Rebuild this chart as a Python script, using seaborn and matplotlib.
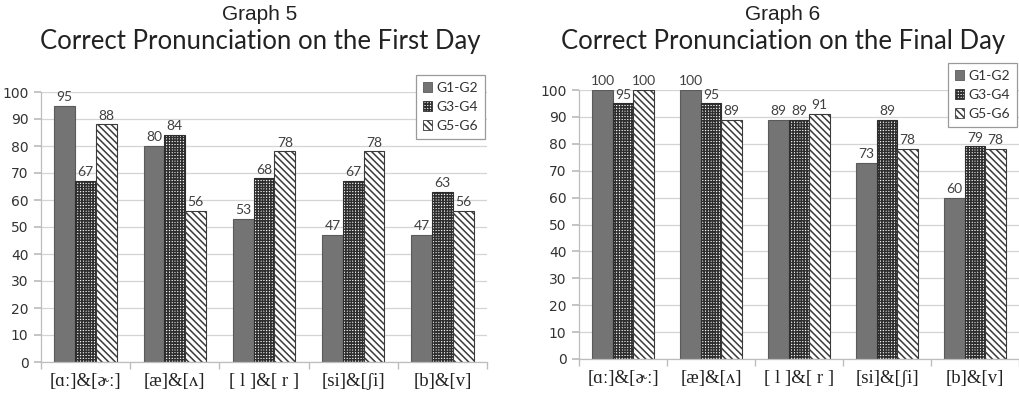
import matplotlib
matplotlib.use("Agg")
import matplotlib.pyplot as plt
from matplotlib.patches import Patch
import seaborn as sns
import pandas as pd

# Sound pairs on the x axis
categories = ["[ɑː]&[ɚː]", "[æ]&[ʌ]", "[ l ]&[ r ]", "[si]&[ʃi]", "[b]&[v]"]
groups = ["G1-G2", "G3-G4", "G5-G6"]

# Correct pronunciation (%) on the first day
first_g12 = [95, 80, 53, 47, 47]
first_g34 = [67, 84, 68, 67, 63]
first_g56 = [88, 56, 78, 78, 56]

# Correct pronunciation (%) on the final day
final_g12 = [100, 100, 89, 73, 60]
final_g34 = [95, 95, 89, 89, 79]
final_g56 = [100, 89, 91, 78, 78]

y_ticks = list(range(0, 101, 10))


def long_frame(a, b, c):
    rows = []
    for g, vals in zip(groups, [a, b, c]):
        for cat, v in zip(categories, vals):
            rows.append({"pair": cat, "group": g, "value": v})
    return pd.DataFrame(rows)


sns.set_theme(style="white")
plt.rcParams["hatch.linewidth"] = 1.1

styles = {
    "G1-G2": dict(facecolor="#747474", hatch=None, edgecolor="#5a5a5a"),
    "G3-G4": dict(facecolor="white", hatch="++++++", edgecolor="#2e2e2e"),
    "G5-G6": dict(facecolor="white", hatch="\\\\\\\\\\", edgecolor="#3a3a3a"),
}

fig = plt.figure(figsize=(10.19, 3.93), dpi=100)
W, H = 1019, 393


def make_axes(x0, x1, ytop, ybot):
    return fig.add_axes([x0 / W, 1 - ybot / H, (x1 - x0) / W, (ybot - ytop) / H])


ax1 = make_axes(41, 487, 92, 362)
ax2 = make_axes(579, 1019, 90, 359)

panels = [
    (ax1, long_frame(first_g12, first_g34, first_g56), "Graph 5",
     "Correct Pronunciation on the First Day", 260, (492 / W, 1 - 68 / H)),
    (ax2, long_frame(final_g12, final_g34, final_g56), "Graph 6",
     "Correct Pronunciation on the Final Day", 783, (1024 / W, 1 - 56 / H)),
]

for ax, df, head, title, xc, leg_anchor in panels:
    sns.barplot(data=df, x="pair", y="value", hue="group", hue_order=groups,
                order=categories, width=0.7, gap=0, ax=ax, legend=False,
                errorbar=None, saturation=1)
    for g, cont in zip(groups, ax.containers):
        st = styles[g]
        for bar in cont:
            bar.set_facecolor(st["facecolor"])
            bar.set_edgecolor(st["edgecolor"])
            bar.set_linewidth(0.8)
            if st["hatch"]:
                bar.set_hatch(st["hatch"])
        ax.bar_label(cont, fmt="%d", padding=2, fontsize=10,
                     color="#404040", family="Lato")

    ax.set_ylim(0, 100)
    ax.set_xlim(-0.5, 4.5)
    ax.set_yticks(y_ticks)
    ax.yaxis.grid(True, color="#d4d4d4", linewidth=0.9)
    ax.set_axisbelow(True)
    ax.set_xlabel("")
    ax.set_ylabel("")
    for s in ["top", "right"]:
        ax.spines[s].set_visible(False)
    for s in ["left", "bottom"]:
        ax.spines[s].set_color("#bdbdbd")
        ax.spines[s].set_linewidth(0.9)
    ax.tick_params(axis="y", length=5, color="#bdbdbd", labelsize=10,
                   labelcolor="#333333", pad=4, left=True)
    ax.set_xticks(range(len(categories)))
    ax.set_xticklabels(categories, family=["Liberation Serif", "DejaVu Serif"],
                       fontsize=13.5, color="#222222")
    ax.tick_params(axis="x", length=0, pad=8)
    ax.set_xticks([i - 0.5 for i in range(len(categories) + 1)], minor=True)
    ax.tick_params(axis="x", which="minor", length=5, color="#bdbdbd",
                   bottom=True)
    for lab in ax.get_yticklabels():
        lab.set_family("DejaVu Sans")

    fig.text(xc / W, 1 - 15 / H, head, ha="center", va="center",
             fontsize=15, family="Liberation Sans", color="#222222")
    fig.text(xc / W, 1 - 41 / H, title, ha="center", va="center",
             fontsize=18.5, family="Lato", color="#222222")

    handles = [Patch(facecolor=styles[g]["facecolor"],
                     edgecolor=styles[g]["edgecolor"],
                     hatch=styles[g]["hatch"], linewidth=0.6, label=g)
               for g in groups]
    leg = fig.legend(handles=handles, loc="upper right",
                     bbox_to_anchor=leg_anchor, frameon=True, fancybox=False,
                     fontsize=10, handlelength=0.7, handleheight=0.7,
                     handletextpad=0.3, labelspacing=0.5, borderpad=0.5,
                     framealpha=1)
    leg.get_frame().set_edgecolor("#9a9a9a")
    leg.get_frame().set_linewidth(0.9)
    for t in leg.get_texts():
        t.set_color("#333333")
        t.set_family("Lato")

fig.savefig("out.png", dpi=100)
